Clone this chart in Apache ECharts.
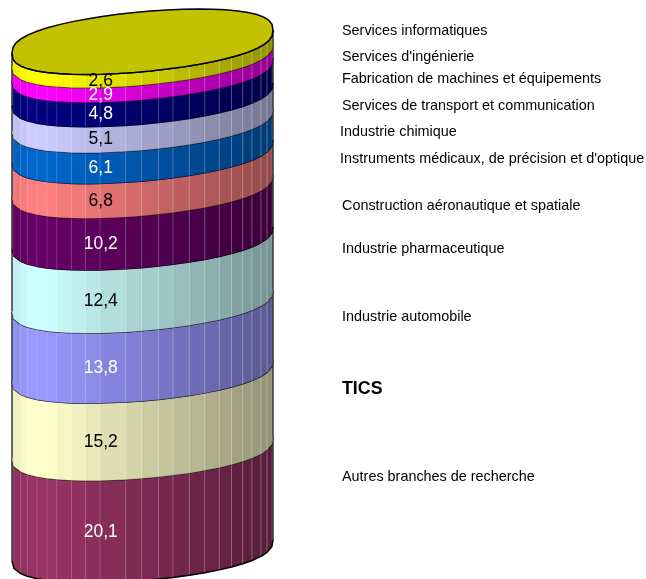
<!DOCTYPE html>
<html><head><meta charset="utf-8">
<style>html,body{margin:0;padding:0;background:#fff}#c{width:646px;height:579px}</style>
<script src="https://cdn.jsdelivr.net/npm/echarts@6/dist/echarts.min.js"></script>
</head><body><div id="c"></div>
<script>
// bottom → top of the stack
const categories = ["Autres branches de recherche","TICS","Industrie automobile","Industrie pharmaceutique","Construction aéronautique et spatiale","Instruments médicaux, de précision et d'optique","Industrie chimique","Services de transport et communication","Fabrication de machines et équipements","Services d'ingénierie","Services informatiques"];
const values = [20.1,15.2,13.8,12.4,10.2,6.8,6.1,5.1,4.8,2.9,2.6];
const valueLabels = ["20,1","15,2","13,8","12,4","10,2","6,8","6,1","5,1","4,8","2,9","2,6"];
const colors = ["#993366","#FFFFCC","#9999FF","#CCFFFF","#660066","#FF8080","#0066CC","#CCCCFF","#000080","#FF00FF","#FFFF00"];
const labelColors = ["#fff","#000","#fff","#000","#fff","#000","#fff","#000","#fff","#fff","#000"];
const capColor = "#C2C200";
// layout only
const legendY = [476,388,316,248,205,158,131,105,78,56,30];
const legendX = [342,342,342,342,342,340,340,342,342,342,342];
const facetAngles = [0,8,17.4,24.8,33,39.8,47,54,61.5,69,76.5,82.9,90.4,97.4,109,116,123,131,137,144,152,159,170,180];
const lineAngles = facetAngles.slice(2,-1);
const GRID = {left:12,top:41.7,width:261,height:508.8};
const B = 30; // ellipse half-height, px
const FULL = 0.78; // outline fullness exponent
const tilt = v => 10.3 + v/100*1.3;
const rad = d => d*Math.PI/180;

function pt(api, deg, v){
  const c = Math.cos(rad(deg)), s = Math.sin(rad(deg));
  const p = api.coord([c, v]);
  return [p[0], p[1] + B*Math.sign(s)*Math.pow(Math.abs(s),FULL) - tilt(v)*c];
}
function shade(hex, k){
  const n = parseInt(hex.slice(1),16);
  const f = x => Math.round(x*k);
  return `rgb(${f(n>>16&255)},${f(n>>8&255)},${f(n&255)})`;
}
function bright(deg){
  const x = Math.cos(rad(deg));
  if (x < -0.75) return 0.93 + Math.min(1,(x+1)/0.15)*0.07;
  return 1 - (x+0.75)/1.75*0.43;
}
const lineStroke = {stroke:'#000', lineWidth:1.5, fill:null, lineJoin:'round'};

let acc = 0;
const bands = values.map((v,i)=>{ const r=[acc,acc+v,i]; acc+=v; return r; });
const total = acc;

const renderBand = (params, api) => {
  const v0 = api.value(0), v1 = api.value(1), i = api.value(2);
  const kids = [];
  for (let k=0;k<facetAngles.length-1;k++){
    const a=facetAngles[k], b=facetAngles[k+1];
    const col=shade(colors[i],bright((a+b)/2));
    kids.push({type:'polygon',silent:true,shape:{points:[pt(api,a,v0),pt(api,b,v0),pt(api,b,v1),pt(api,a,v1)]},
      style:{fill:col,stroke:col,lineWidth:0.5}});
  }
  lineAngles.forEach(a=>{
    const p=pt(api,a,v0), q=pt(api,a,v1);
    const op=0.1+0.22*(1-a/180);
    kids.push({type:'line',silent:true,shape:{x1:p[0],y1:p[1],x2:q[0],y2:q[1]},style:{stroke:`rgba(255,255,255,${op.toFixed(2)})`,lineWidth:1}});
  });
  const arc = v => facetAngles.map(a=>pt(api,a,v));
  kids.push({type:'line',silent:true,shape:{x1:pt(api,180,v0)[0],y1:pt(api,180,v0)[1],x2:pt(api,180,v1)[0],y2:pt(api,180,v1)[1]},style:{stroke:'#444',lineWidth:1.6}});
  kids.push({type:'line',silent:true,shape:{x1:pt(api,0,v0)[0],y1:pt(api,0,v0)[1],x2:pt(api,0,v1)[0],y2:pt(api,0,v1)[1]},style:{stroke:'#444',lineWidth:1.6}});
  kids.push({type:'polyline',silent:true,shape:{points:arc(v1)},style:lineStroke});
  if (i===0) kids.push({type:'polyline',silent:true,shape:{points:arc(v0)},style:lineStroke});
  return {type:'group',children:kids};
};
const renderCap = (params, api) => {
  const v = api.value(0), pts=[];
  for (let a=0;a<360;a+=7.2) pts.push(pt(api,a,v));
  return {type:'polygon',silent:true,shape:{points:pts},style:{fill:capColor,stroke:'#000',lineWidth:1.5}};
};
const renderLabel = (params, api) => {
  const mid=(api.value(0)+api.value(1))/2, i=api.value(2);
  const p=api.coord([-0.32,mid]);
  return {type:'text',silent:true,style:{x:p[0],y:p[1]+32.4,text:valueLabels[i],fill:labelColors[i],font:'17.5px "Liberation Sans"',align:'center',verticalAlign:'middle'}};
};

const chart = echarts.init(document.getElementById('c'),null,{renderer:'canvas'});
chart.setOption({
  animation:false,
  backgroundColor:'#fff',
  grid:GRID,
  xAxis:{type:'value',min:-1,max:1,show:false},
  yAxis:{type:'value',min:0,max:100,show:false},
  series:[
    {type:'custom',clip:false,data:bands,renderItem:renderBand,encode:{x:[],y:[0,1]},z:2},
    {type:'custom',clip:false,data:[[total]],renderItem:renderCap,encode:{x:[],y:0},z:3},
    {type:'custom',clip:false,data:bands,renderItem:renderLabel,encode:{x:[],y:[0,1]},z:4}
  ],
  graphic:categories.map((name,i)=>({type:'text',silent:true,left:legendX[i],top:legendY[i]-(name==='TICS'?8:6),
    style:{text:name,fill:'#000',font:(name==='TICS'?'bold 17.8px':'14.4px')+' "Liberation Sans"'}}))
});
</script></body></html>
